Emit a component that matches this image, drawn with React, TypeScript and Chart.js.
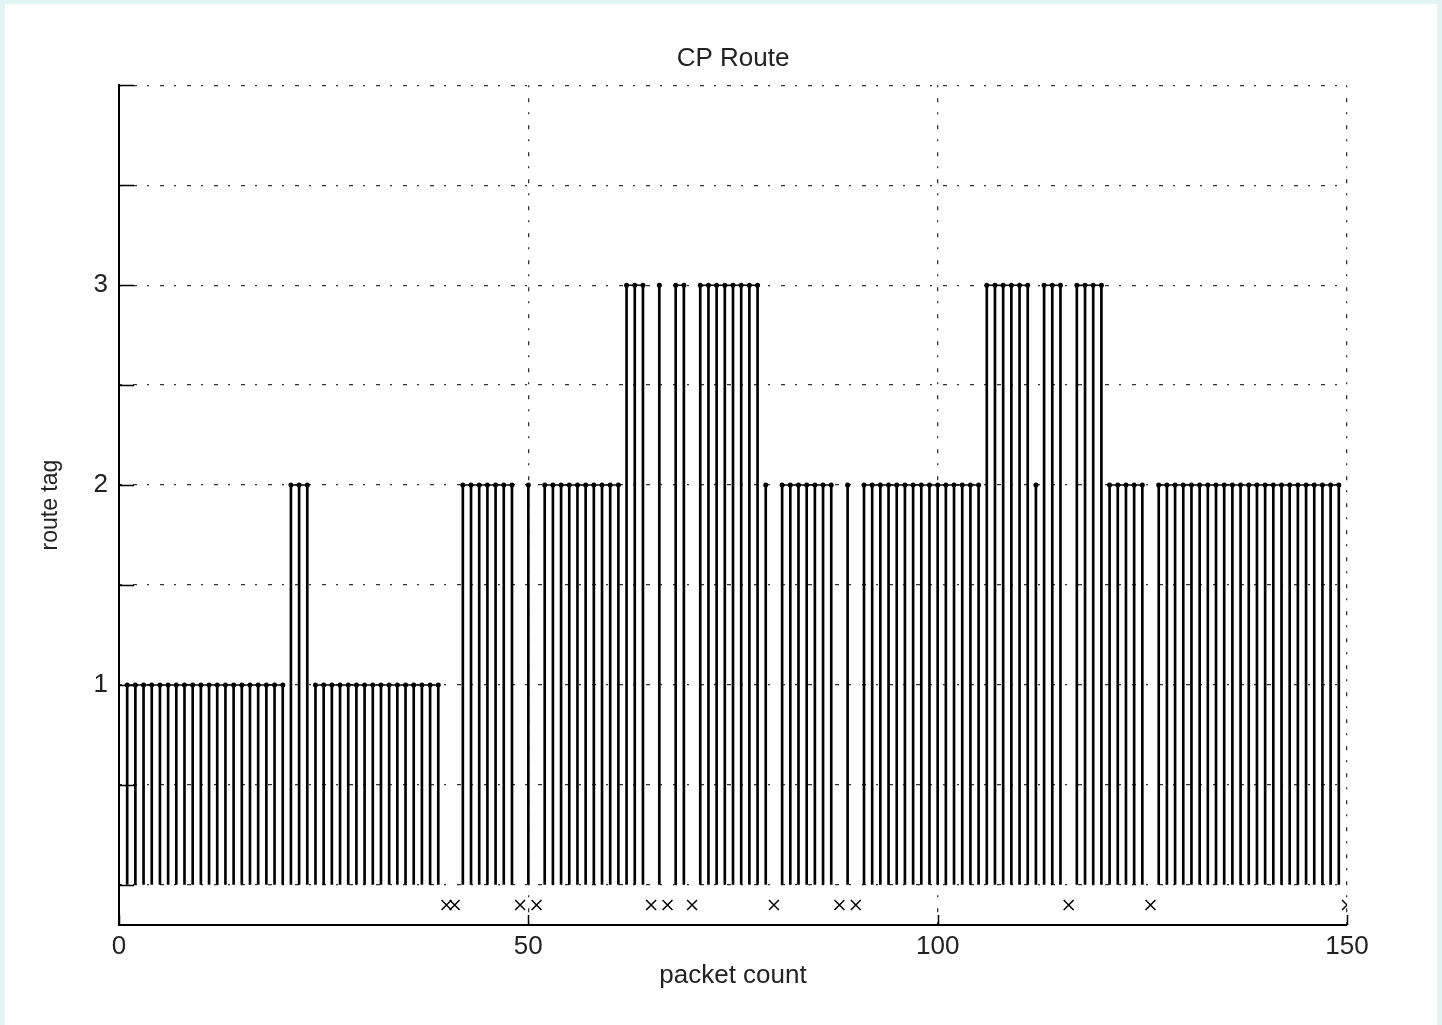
import React, { useEffect, useRef } from "react";
import { Chart, registerables } from "chart.js";

Chart.register(...registerables);

const N = null;

// route tag per packet (packet count 1..150); null = lost packet (drawn as x)
const routeTag: (number | null)[] = [
  1, 1, 1, 1, 1, 1, 1, 1, 1, 1,
  1, 1, 1, 1, 1, 1, 1, 1, 1, 1,
  2, 2, 2, 1, 1, 1, 1, 1, 1, 1,
  1, 1, 1, 1, 1, 1, 1, 1, 1, N,
  N, 2, 2, 2, 2, 2, 2, 2, N, 2,
  N, 2, 2, 2, 2, 2, 2, 2, 2, 2,
  2, 3, 3, 3, N, 3, N, 3, 3, N,
  3, 3, 3, 3, 3, 3, 3, 3, 2, N,
  2, 2, 2, 2, 2, 2, 2, N, 2, N,
  2, 2, 2, 2, 2, 2, 2, 2, 2, 2,
  2, 2, 2, 2, 2, 3, 3, 3, 3, 3,
  3, 2, 3, 3, 3, N, 3, 3, 3, 3,
  2, 2, 2, 2, 2, N, 2, 2, 2, 2,
  2, 2, 2, 2, 2, 2, 2, 2, 2, 2,
  2, 2, 2, 2, 2, 2, 2, 2, 2, N,
];

const xTickValues = [0, 50, 100, 150];
const yTickLabels = [1, 2, 3];
const LOST_MARK_Y = -0.1;

const FONT = "'Liberation Sans', Arial, Helvetica, sans-serif";
const TEXT = "#222";

const inwardTicks = {
  id: "inwardTicks",
  afterDraw(chart: any) {
    const { ctx, chartArea, scales } = chart;
    const xs = scales.x;
    const ys = scales.y;
    ctx.save();
    ctx.strokeStyle = "#000";
    ctx.lineWidth = 1.5;
    ctx.beginPath();
    ys.ticks.forEach((t: any) => {
      const py = Math.round(ys.getPixelForValue(t.value)) + 0.5;
      ctx.moveTo(chartArea.left, py);
      ctx.lineTo(chartArea.left + 15, py);
    });
    xs.ticks.forEach((t: any) => {
      const px = Math.round(xs.getPixelForValue(t.value)) + 0.5;
      ctx.moveTo(px, chartArea.bottom);
      ctx.lineTo(px, chartArea.bottom - 10);
    });
    ctx.stroke();
    ctx.restore();
  },
};

export default function App() {
  const ref = useRef<HTMLCanvasElement | null>(null);

  useEffect(() => {
    if (!ref.current) return;
    const packets = routeTag.map((_, i) => i + 1);
    const stems = packets
      .map((p, i) => (routeTag[i] == null ? null : { x: p, y: [0, routeTag[i]] }))
      .filter((d) => d !== null);
    const tops = packets.map((p, i) => ({ x: p, y: routeTag[i] }));
    const lost = packets
      .filter((_, i) => routeTag[i] == null)
      .map((p) => ({ x: p, y: LOST_MARK_Y }));

    const chart = new Chart(ref.current, {
      type: "bar",
      data: {
        datasets: [
          {
            type: "bar",
            data: stems as any,
            backgroundColor: "#000",
            borderWidth: 0,
            barThickness: 2,
            order: 3,
          },
          {
            type: "line",
            data: tops as any,
            borderColor: "#000",
            borderWidth: 1.5,
            pointRadius: 2.5,
            pointBackgroundColor: "#000",
            pointBorderColor: "#000",
            pointBorderWidth: 0,
            spanGaps: false,
            segment: {
              borderColor: (c: any) =>
                c.p0.parsed.y === c.p1.parsed.y && c.p1.parsed.x - c.p0.parsed.x === 1
                  ? "#000"
                  : "rgba(0,0,0,0)",
            },
            order: 2,
          },
          {
            type: "scatter",
            data: lost as any,
            pointStyle: "crossRot",
            pointRadius: 7,
            pointBorderWidth: 1.5,
            pointBorderColor: "#000",
            pointBackgroundColor: "#000",
            showLine: false,
            order: 1,
          },
        ],
      },
      options: {
        responsive: false,
        animation: false,
        layout: { padding: { left: 0, right: 90, top: 0, bottom: 0 } },
        plugins: {
          legend: { display: false },
          tooltip: { enabled: false },
          title: {
            display: true,
            fullSize: false,
            text: "CP Route",
            color: TEXT,
            font: { size: 26, family: FONT, weight: "normal" },
            padding: { top: 39, bottom: 11 },
          },
        },
        scales: {
          x: {
            type: "linear",
            min: 0,
            max: 150,
            offset: false,
            afterFit: (s: any) => {
              s.height = 100;
            },
            afterBuildTicks: (s: any) => {
              s.ticks = xTickValues.map((v) => ({ value: v }));
            },
            ticks: {
              color: TEXT,
              font: { size: 26, family: FONT },
              padding: 6,
              maxRotation: 0,
              autoSkip: false,
            },
            grid: {
              color: "#333",
              lineWidth: 1.3,
              drawTicks: false,
              offset: false,
            },
            border: { display: true, color: "#000", width: 2, dash: [2, 11, 4, 10] },
            title: {
              display: true,
              text: "packet count",
              color: TEXT,
              font: { size: 26, family: FONT },
              padding: { top: 0, bottom: 34 },
            },
          },
          y: {
            type: "linear",
            min: -0.2,
            max: 4,
            afterFit: (s: any) => {
              s.width = 114;
            },
            ticks: {
              stepSize: 0.5,
              includeBounds: false,
              autoSkip: false,
              color: TEXT,
              font: { size: 26, family: FONT },
              padding: 11,
              callback: (v: any) => (yTickLabels.includes(Number(v)) ? String(v) : ""),
            },
            grid: {
              color: "#333",
              lineWidth: 1.3,
              drawTicks: false,
            },
            border: { display: true, color: "#000", width: 2, dash: [2, 11, 4, 10] },
            title: {
              display: true,
              text: "route tag",
              color: TEXT,
              font: { size: 23, family: FONT },
              padding: { top: 32, bottom: 0 },
            },
          },
        },
      } as any,
      plugins: [inwardTicks],
    });

    return () => chart.destroy();
  }, []);

  return (
    <div
      style={{
        position: "fixed",
        left: 0,
        top: 0,
        width: 1442,
        height: 1025,
        background: "#e2f4f3",
        overflow: "hidden",
      }}
    >
      <canvas
        ref={ref}
        width={1432}
        height={1021}
        style={{
          position: "absolute",
          left: 5,
          top: 4,
          width: 1432,
          height: 1021,
          background: "#fff",
        }}
      />
    </div>
  );
}
